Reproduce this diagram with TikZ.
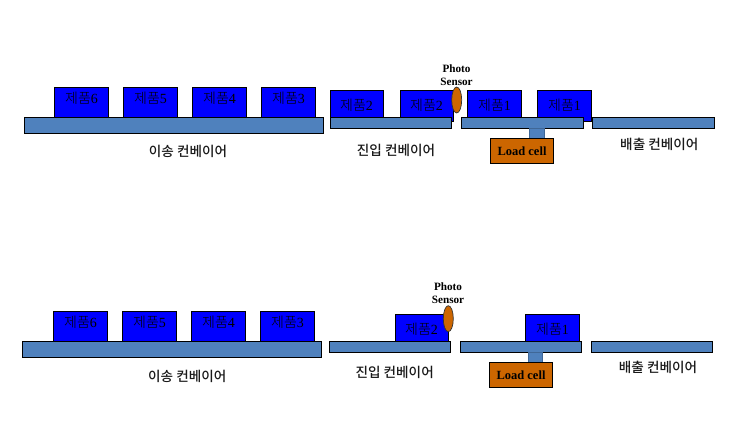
\documentclass[tikz,border=0pt]{standalone}
\usepackage{fontspec}
\setmainfont{Liberation Serif}
\newfontfamily\krfont{Noto Sans CJK KR Medium}
\newfontfamily\krlight{Noto Sans CJK KR Light}
\definecolor{prodblue}{RGB}{0,0,255}
\definecolor{convblue}{RGB}{79,129,189}
\definecolor{sensorbrown}{RGB}{204,102,0}
\definecolor{labelink}{RGB}{25,25,25}
\tikzset{
  shapebase/.style={draw=black,line width=0.9pt,inner sep=0pt,outer sep=0pt},
  product/.style={shapebase,fill=prodblue},
  conveyor/.style={shapebase,fill=convblue},
  pillar/.style={shapebase,draw=convblue!80!black,fill=convblue},
  loadcell/.style={shapebase,fill=sensorbrown,font=\bfseries\fontsize{12.5}{14}\selectfont},
  sensor/.style={ellipse,draw=black!80,line width=0.7pt,fill=sensorbrown,minimum width=10pt,minimum height=26pt,inner sep=0pt,outer sep=0pt},
  prodtext/.style={inner sep=0pt,text=black,font=\fontsize{14}{15}\selectfont},
  convtext/.style={inner sep=0pt,text=labelink,font=\krfont\fontsize{13.6}{15}\selectfont},
  sensortext/.style={inner sep=0pt,align=center,text=black,font=\bfseries\fontsize{11.2}{14}\selectfont},
}
\usetikzlibrary{shapes.geometric}
% name, x1, y1, x2, y2, style, text
\newcommand{\pxbox}[7]{%
  \pgfmathsetmacro{\cxx}{(#2+#4)/2}\pgfmathsetmacro{\cyy}{(#3+#5)/2}%
  \pgfmathsetmacro{\www}{#4-#2}\pgfmathsetmacro{\hhh}{#5-#3}%
  \node[#6,minimum width=\www pt,minimum height=\hhh pt] (#1) at (\cxx,\cyy) {#7};}
\newcommand{\prodlabel}[4]{\node[prodtext] (#1) at (#2,#3) {{\krlight 제품}#4};}
\begin{document}
\begin{tikzpicture}[x=1pt,y=-1pt]
\useasboundingbox (0,0) rectangle (744,433);
% ---------- upper line ----------
\pxbox{ua6}{54.3}{87.3}{108.7}{117.3}{product}{}
\pxbox{ua5}{123}{87.3}{177.7}{117.3}{product}{}
\pxbox{ua4}{192.3}{87.3}{246.7}{117.3}{product}{}
\pxbox{ua3}{261}{87.3}{315.7}{117.3}{product}{}
\pxbox{ub2}{330.3}{90.3}{383.7}{117.3}{product}{}
\pxbox{uc2}{400.3}{90.3}{453.7}{121.5}{product}{}
\pxbox{ud1}{467.3}{90.3}{521.7}{117.3}{product}{}
\pxbox{ue1}{537.3}{90.3}{591}{121.5}{product}{}
\prodlabel{ta6}{81.5}{98.5}{6}
\prodlabel{ta5}{150.5}{98.5}{5}
\prodlabel{ta4}{219.5}{98.5}{4}
\prodlabel{ta3}{288.5}{98.5}{3}
\prodlabel{tb2}{356.5}{105}{2}
\prodlabel{tc2}{426.5}{105}{2}
\prodlabel{td1}{494.5}{105}{1}
\prodlabel{te1}{564.5}{105}{1}
\pxbox{uconvA}{24.3}{117.3}{323.7}{133.3}{conveyor}{}
\pxbox{uconvB}{330.3}{117.3}{451.7}{128.3}{conveyor}{}
\pxbox{uconvC}{461.3}{117.3}{583.7}{128.3}{conveyor}{}
\pxbox{uconvD}{592.3}{117.3}{714.7}{128.3}{conveyor}{}
\pxbox{upillar}{529.7}{128.3}{544.3}{138.3}{pillar}{}
\pxbox{uload}{490.3}{138.3}{553.7}{163.3}{loadcell}{Load cell}
\node[sensor] (usensor) at (456.7,100) {};
\node[sensortext] (uphoto) at (456.5,75) {Photo\\[-0.5pt]Sensor};
\node[convtext] (ulabA) at (188,151.7) {이송 컨베이어};
\node[convtext] (ulabB) at (396,150) {진입 컨베이어};
\node[convtext] (ulabD) at (659.3,144) {배출 컨베이어};
% ---------- lower line ----------
\pxbox{la6}{53.3}{311.3}{107.7}{341.3}{product}{}
\pxbox{la5}{122}{311.3}{176.7}{341.3}{product}{}
\pxbox{la4}{191.3}{311.3}{245.7}{341.3}{product}{}
\pxbox{la3}{260}{311.3}{314.7}{341.3}{product}{}
\pxbox{lc2}{395.3}{314.3}{448.7}{341.3}{product}{}
\pxbox{le1}{525.3}{314.3}{579.7}{341.3}{product}{}
\prodlabel{sa6}{80.5}{322.5}{6}
\prodlabel{sa5}{149.5}{322.5}{5}
\prodlabel{sa4}{218.5}{322.5}{4}
\prodlabel{sa3}{287.5}{322.5}{3}
\prodlabel{sc2}{421.5}{329}{2}
\prodlabel{se1}{552.5}{329}{1}
\pxbox{lconvA}{22.3}{341.3}{321.7}{357.3}{conveyor}{}
\pxbox{lconvB}{329.3}{341.3}{450.7}{352.3}{conveyor}{}
\pxbox{lconvC}{460.3}{341.3}{581.7}{352.3}{conveyor}{}
\pxbox{lconvD}{591.3}{341.3}{712.7}{352.3}{conveyor}{}
\pxbox{lpillar}{528.3}{352.3}{542.3}{362.3}{pillar}{}
\pxbox{lload}{489.3}{362.3}{552.7}{387.3}{loadcell}{Load cell}
\node[sensor] (lsensor) at (448.3,318.7) {};
\node[sensortext] (lphoto) at (448,293) {Photo\\[-0.5pt]Sensor};
\node[convtext] (llabA) at (187.3,376) {이송 컨베이어};
\node[convtext] (llabB) at (394.7,372.7) {진입 컨베이어};
\node[convtext] (llabD) at (658,367.7) {배출 컨베이어};
\end{tikzpicture}
\end{document}
